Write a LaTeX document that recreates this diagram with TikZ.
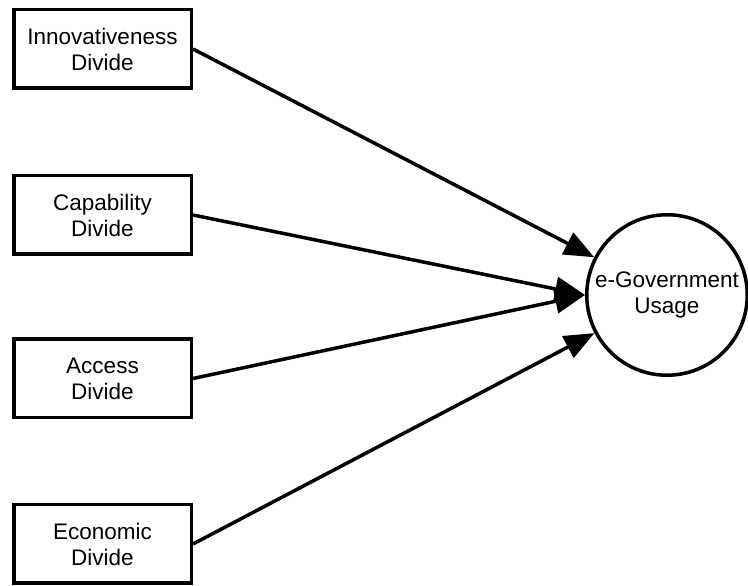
\documentclass[tikz,border=0pt]{standalone}
\usepackage{fontspec}
\setmainfont{Liberation Sans}
\usetikzlibrary{arrows.meta}
\begin{document}
\begin{tikzpicture}[x=1pt,y=1pt,
  divbox/.style={draw=black, line width=3.5pt, fill=white, minimum width=177.5pt, minimum height=78.5pt, inner sep=0pt, align=center, font=\fontsize{22.5}{26}\selectfont},
  usage/.style={draw=black, line width=3.5pt, circle, fill=white, minimum size=160.5pt, inner sep=0pt, align=center, font=\fontsize{22.5}{26}\selectfont},
  link/.style={line width=3.5pt, -{Triangle[length=30pt,width=24pt]}}]
\useasboundingbox (0,0) rectangle (748,586);
\node[divbox] (inn) at (102.5,537) {Innovativeness\\Divide};
\node[divbox] (cap) at (102.5,371) {Capability\\Divide};
\node[divbox] (acc) at (102.5,207.5) {Access\\Divide};
\node[divbox] (eco) at (102.5,42) {Economic\\Divide};
\node[usage] (use) at (667,291) {e-Government\\Usage};
\draw[link] (inn.east) -- (use);
\draw[link] (cap.east) -- (use.west);
\draw[link] (acc.east) -- (use.west);
\draw[link] (eco.east) -- (use);
\end{tikzpicture}
\end{document}
